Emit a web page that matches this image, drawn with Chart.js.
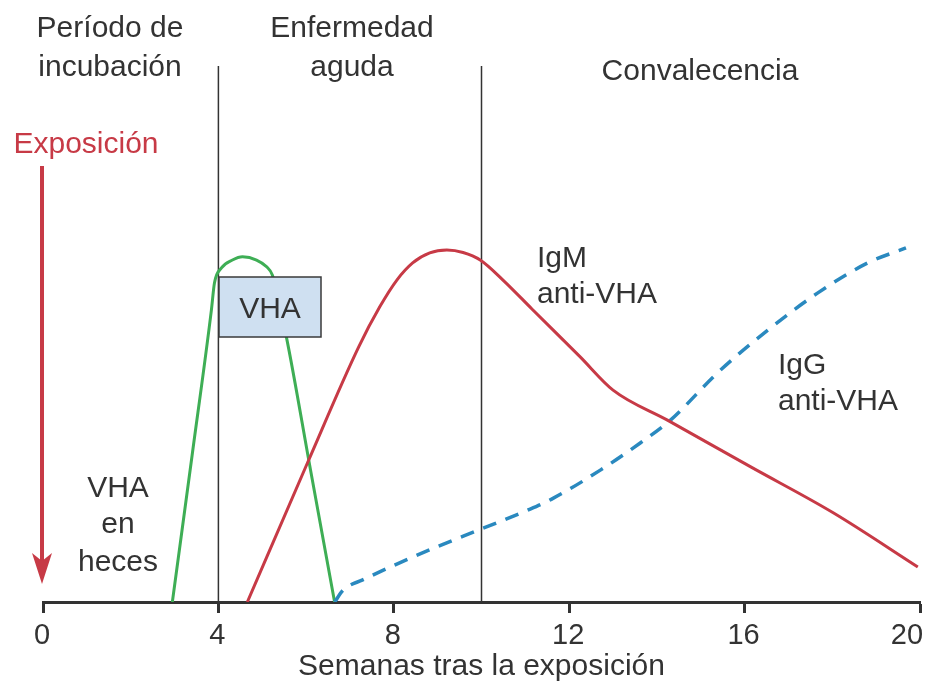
<!DOCTYPE html>
<html lang="es">
<head>
<meta charset="utf-8">
<title>Hepatitis A - evolución</title>
<script src="https://cdn.jsdelivr.net/npm/chart.js@4.4.1/dist/chart.umd.min.js"></script>
<style>
  html, body { margin: 0; padding: 0; background: #fff; }
</style>
</head>
<body>
<canvas id="grafico" width="927" height="685"></canvas>
<script>
// Eje X: semanas tras la exposición
const ticksSemanas = [0, 4, 8, 12, 16, 20];
const limitesFases = [4, 10];
const nivelMax = 150;

// VHA en heces (verde)
const vhaSemanas = [2.95, 3.4, 3.84, 3.91, 4.07, 4.32, 4.55, 4.87, 5.10, 5.23, 5.55, 6.1, 6.65];
const vhaNivel   = [0, 41, 81.7, 89.3, 93.5, 95.7, 96.6, 95.7, 93.8, 91.5, 74.2, 37, 0];

// IgM anti-VHA (rojo)
const igmSemanas = [4.66, 6.03, 7.2, 7.68, 8.07, 8.43, 8.82, 9.21, 9.58, 9.97, 10.49, 11.15, 12.25, 13.0, 14.24, 16.14, 18.03, 19.95];
const igmNivel   = [0, 38.9, 71.4, 82.6, 90.1, 94.9, 97.7, 98.5, 97.8, 95.7, 90.1, 82, 68.6, 59.3, 50.9, 37.8, 24.9, 9.8];

// IgG anti-VHA (azul, discontinua)
const iggSemanas = [6.65, 6.85, 7.29, 8.82, 10.03, 11.11, 11.63, 12.71, 13.62, 14.31, 15.38, 16.53, 17.67, 18.81, 19.68];
const iggNivel   = [0, 3.4, 6.2, 14.6, 20.6, 26.0, 29.0, 36.9, 44.5, 50.9, 64.1, 76.1, 86.5, 94.9, 99.1];

const FUENTE = '"Liberation Sans", Arial, sans-serif';
const GRIS = '#333';
const ROJO = '#c73a46';

Chart.defaults.font.family = FUENTE;

function puntos(xs, ys) {
    return xs.map((x, i) => ({ x: x, y: ys[i] }));
}

// Textos, flecha de exposición y recuadro "VHA"
const anotaciones = {
    id: 'anotaciones',
    afterDatasetsDraw(chart) {
        const ctx = chart.ctx;
        const x0 = chart.scales.x.getPixelForValue(0);
        ctx.save();
        ctx.font = '30px ' + FUENTE;
        ctx.textBaseline = 'alphabetic';
        ctx.textAlign = 'center';
        ctx.fillStyle = GRIS;

        // Fases
        ctx.fillText('Período de', 110, 37);
        ctx.fillText('incubación', 110, 76);
        ctx.fillText('Enfermedad', 352, 37);
        ctx.fillText('aguda', 352, 76);
        ctx.fillText('Convalecencia', 700, 80);

        // VHA en heces
        ctx.fillText('VHA', 118, 497);
        ctx.fillText('en', 118, 533);
        ctx.fillText('heces', 118, 571);

        // Recuadro VHA
        ctx.fillStyle = '#cfe0f1';
        ctx.strokeStyle = '#3a3a3a';
        ctx.lineWidth = 1.5;
        ctx.fillRect(219, 277, 102, 60);
        ctx.strokeRect(219, 277, 102, 60);
        ctx.fillStyle = GRIS;
        ctx.fillText('VHA', 270, 318);

        // Etiquetas de anticuerpos
        ctx.textAlign = 'left';
        ctx.fillText('IgM', 537, 267);
        ctx.fillText('anti-VHA', 537, 303);
        ctx.fillText('IgG', 778, 374);
        ctx.fillText('anti-VHA', 778, 410);

        // Exposición + flecha
        ctx.textAlign = 'center';
        ctx.fillStyle = ROJO;
        ctx.fillText('Exposición', 86, 153);
        ctx.strokeStyle = ROJO;
        ctx.lineWidth = 4;
        ctx.beginPath();
        ctx.moveTo(x0 - 1, 166);
        ctx.lineTo(x0 - 1, 562);
        ctx.stroke();
        ctx.beginPath();
        ctx.moveTo(x0 - 1, 584);
        ctx.lineTo(x0 - 11, 553);
        ctx.lineTo(x0 - 1, 561);
        ctx.lineTo(x0 + 9, 553);
        ctx.closePath();
        ctx.fill();
        ctx.restore();
    }
};

const datasets = limitesFases.map(s => ({
    data: [{ x: s, y: 0 }, { x: s, y: nivelMax }],
    borderColor: GRIS,
    borderWidth: 1.5,
    pointRadius: 0,
    order: 5
}));

datasets.push({
    label: 'VHA en heces',
    data: puntos(vhaSemanas, vhaNivel),
    borderColor: '#3eae55',
    borderWidth: 3,
    pointRadius: 0,
    cubicInterpolationMode: 'monotone',
    order: 3
});
datasets.push({
    label: 'IgG anti-VHA',
    data: puntos(iggSemanas, iggNivel),
    borderColor: '#2a89bf',
    borderWidth: 3.5,
    borderDash: [14, 10],
    pointRadius: 0,
    cubicInterpolationMode: 'monotone',
    order: 2
});
datasets.push({
    label: 'IgM anti-VHA',
    data: puntos(igmSemanas, igmNivel),
    borderColor: ROJO,
    borderWidth: 3,
    pointRadius: 0,
    cubicInterpolationMode: 'monotone',
    order: 1
});

new Chart(document.getElementById('grafico'), {
    type: 'line',
    data: { datasets: datasets },
    options: {
        responsive: false,
        devicePixelRatio: 1,
        animation: false,
        layout: { padding: { left: 43, right: 7, top: 66, bottom: 0 } },
        plugins: { legend: { display: false }, tooltip: { enabled: false } },
        scales: {
            x: {
                type: 'linear',
                min: 0,
                max: 20,
                afterBuildTicks: s => { s.ticks = ticksSemanas.map(v => ({ value: v })); },
                afterFit: s => { s.height = 83; s.paddingLeft = 0; s.paddingRight = 0; },
                border: { display: true, color: GRIS, width: 3 },
                grid: { drawOnChartArea: false, drawTicks: true, tickLength: 11, tickWidth: 3, tickColor: GRIS },
                ticks: {
                    color: GRIS,
                    font: { size: 29 },
                    padding: 6,
                    labelOffset: -1,
                    maxRotation: 0,
                    autoSkip: false,
                    callback: v => v === 20 ? '20\u00a0\u00a0\u00a0' : String(v)
                },
                title: {
                    display: true,
                    text: 'Semanas tras la exposición',
                    color: GRIS,
                    font: { size: 30, lineHeight: 1.2 },
                    padding: { top: 0, bottom: 0 }
                }
            },
            y: { min: 0, max: nivelMax, display: false }
        }
    },
    plugins: [anotaciones]
});
</script>
</body>
</html>
